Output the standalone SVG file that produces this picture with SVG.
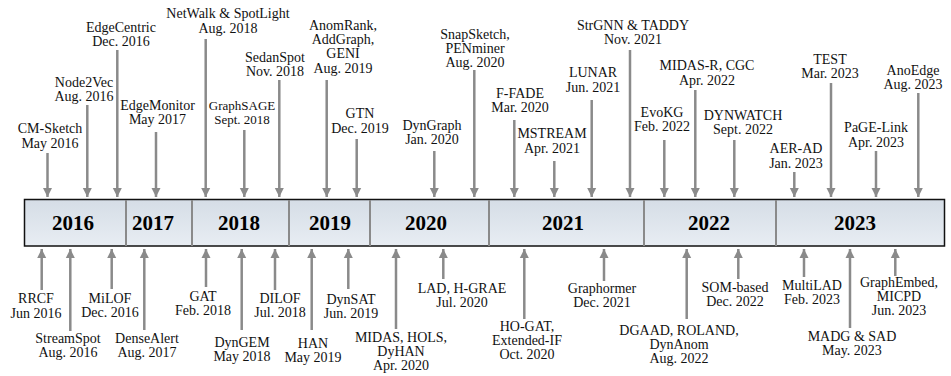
<svg xmlns="http://www.w3.org/2000/svg" width="951" height="376" viewBox="0 0 951 376">
<style>
text{font-family:'Liberation Serif',Tinos,'Times New Roman',Times,'DejaVu Serif',serif;font-size:14px;fill:#111;text-anchor:middle}
.yr{font-size:21px;font-weight:bold;fill:#000}
.sm{font-size:13px}
.arr{stroke:#8a8a8a;stroke-width:2.5;fill:none;marker-end:url(#ah)}
.div{stroke:#8a8a8a;stroke-width:2}
</style>
<defs>
<marker id="ah" markerUnits="userSpaceOnUse" markerWidth="10" markerHeight="10" refX="9" refY="5" orient="auto">
<path d="M0,0.5 L9,5 L0,9.5 z" fill="#8a8a8a"/>
</marker>
<linearGradient id="bg" x1="0" y1="0" x2="0" y2="1">
<stop offset="0" stop-color="#d5dde6"/>
<stop offset="1" stop-color="#e8edf3"/>
</linearGradient>
</defs>
<g id="timeline">
<rect x="24.5" y="199.5" width="920" height="46.5" fill="url(#bg)" stroke="#111" stroke-width="1.5"/>
<line class="div" x1="126" y1="200" x2="126" y2="246"/>
<line class="div" x1="192" y1="200" x2="192" y2="246"/>
<line class="div" x1="289" y1="200" x2="289" y2="246"/>
<line class="div" x1="370" y1="200" x2="370" y2="246"/>
<line class="div" x1="489" y1="200" x2="489" y2="246"/>
<line class="div" x1="644" y1="200" x2="644" y2="246"/>
<line class="div" x1="776" y1="200" x2="776" y2="246"/>
<text class="yr" x="73" y="230">2016</text>
<text class="yr" x="153" y="230">2017</text>
<text class="yr" x="239" y="230">2018</text>
<text class="yr" x="330" y="230">2019</text>
<text class="yr" x="426" y="230">2020</text>
<text class="yr" x="563" y="230">2021</text>
<text class="yr" x="709" y="230">2022</text>
<text class="yr" x="855" y="230">2023</text>
</g>
<g id="connectors">
<line class="arr" x1="47.5" y1="153" x2="47.5" y2="197"/>
<line class="arr" x1="87.3" y1="105" x2="87.3" y2="197"/>
<line class="arr" x1="117.3" y1="50" x2="117.3" y2="197"/>
<line class="arr" x1="156" y1="132" x2="156" y2="197"/>
<line class="arr" x1="205.7" y1="39" x2="205.7" y2="197"/>
<line class="arr" x1="244.3" y1="130" x2="244.3" y2="197"/>
<line class="arr" x1="279.3" y1="80" x2="279.3" y2="197"/>
<line class="arr" x1="326.7" y1="80" x2="326.7" y2="197"/>
<line class="arr" x1="356.7" y1="139" x2="356.7" y2="197"/>
<line class="arr" x1="434.3" y1="151" x2="434.3" y2="197"/>
<line class="arr" x1="474.3" y1="70" x2="474.3" y2="197"/>
<line class="arr" x1="514.3" y1="120" x2="514.3" y2="197"/>
<line class="arr" x1="554.3" y1="161" x2="554.3" y2="197"/>
<line class="arr" x1="591.7" y1="100" x2="591.7" y2="197"/>
<line class="arr" x1="630" y1="50" x2="630" y2="197"/>
<line class="arr" x1="664.3" y1="140" x2="664.3" y2="197"/>
<line class="arr" x1="695.3" y1="90" x2="695.3" y2="197"/>
<line class="arr" x1="734.3" y1="140" x2="734.3" y2="197"/>
<line class="arr" x1="794.3" y1="172" x2="794.3" y2="197"/>
<line class="arr" x1="831" y1="83" x2="831" y2="197"/>
<line class="arr" x1="876" y1="151" x2="876" y2="197"/>
<line class="arr" x1="918.3" y1="93" x2="918.3" y2="197"/>
<line class="arr" x1="41.7" y1="290" x2="41.7" y2="249"/>
<line class="arr" x1="70.3" y1="331" x2="70.3" y2="249"/>
<line class="arr" x1="111.7" y1="289" x2="111.7" y2="249"/>
<line class="arr" x1="144.3" y1="330" x2="144.3" y2="249"/>
<line class="arr" x1="206" y1="287" x2="206" y2="249"/>
<line class="arr" x1="241.7" y1="330" x2="241.7" y2="249"/>
<line class="arr" x1="275" y1="290" x2="275" y2="249"/>
<line class="arr" x1="311.7" y1="330" x2="311.7" y2="249"/>
<line class="arr" x1="348.3" y1="289" x2="348.3" y2="249"/>
<line class="arr" x1="396" y1="329" x2="396" y2="249"/>
<line class="arr" x1="443.3" y1="279" x2="443.3" y2="249"/>
<line class="arr" x1="524.3" y1="319" x2="524.3" y2="249"/>
<line class="arr" x1="604" y1="281" x2="604" y2="249"/>
<line class="arr" x1="686.7" y1="319" x2="686.7" y2="249"/>
<line class="arr" x1="738.3" y1="279" x2="738.3" y2="249"/>
<line class="arr" x1="804" y1="277" x2="804" y2="249"/>
<line class="arr" x1="850" y1="328" x2="850" y2="249"/>
<line class="arr" x1="895.3" y1="276" x2="895.3" y2="249"/>
</g>
<g id="cmsketch"><text x="50" y="133">CM-Sketch</text><text x="50" y="148">May 2016</text></g>
<g id="node2vec"><text x="84" y="87">Node2Vec</text><text x="84" y="101">Aug. 2016</text></g>
<g id="edgecentric"><text x="121" y="32">EdgeCentric</text><text x="121" y="46">Dec. 2016</text></g>
<g id="edgemonitor"><text x="157.5" y="110">EdgeMonitor</text><text x="157.5" y="124">May 2017</text></g>
<g id="netwalk"><text x="228" y="18">NetWalk &amp; SpotLight</text><text x="228" y="33">Aug. 2018</text></g>
<g id="graphsage"><text class="sm" x="242" y="110">GraphSAGE</text><text class="sm" x="242" y="124">Sept. 2018</text></g>
<g id="sedanspot"><text x="275" y="62">SedanSpot</text><text x="275" y="76">Nov. 2018</text></g>
<g id="anomrank"><text x="343" y="30">AnomRank,</text><text x="343" y="44">AddGraph,</text><text x="343" y="58">GENI</text><text x="343" y="73">Aug. 2019</text></g>
<g id="gtn"><text x="360" y="118">GTN</text><text x="360" y="133">Dec. 2019</text></g>
<g id="dyngraph"><text x="432" y="130">DynGraph</text><text x="432" y="144">Jan. 2020</text></g>
<g id="snapsketch"><text x="475" y="39">SnapSketch,</text><text x="475" y="53">PENminer</text><text x="475" y="67">Aug. 2020</text></g>
<g id="ffade"><text x="520" y="98">F-FADE</text><text x="520" y="112">Mar. 2020</text></g>
<g id="mstream"><text x="552" y="138">MSTREAM</text><text x="552" y="153">Apr. 2021</text></g>
<g id="lunar"><text x="593" y="77">LUNAR</text><text x="593" y="92">Jun. 2021</text></g>
<g id="strgnn"><text x="633" y="30">StrGNN &amp; TADDY</text><text x="633" y="44">Nov. 2021</text></g>
<g id="evokg"><text x="662" y="117">EvoKG</text><text x="662" y="131">Feb. 2022</text></g>
<g id="midasr"><text x="707" y="70">MIDAS-R, CGC</text><text x="707" y="85">Apr. 2022</text></g>
<g id="dynwatch"><text x="743" y="120">DYNWATCH</text><text x="743" y="134">Sept. 2022</text></g>
<g id="aerad"><text x="796" y="153">AER-AD</text><text x="796" y="168">Jan. 2023</text></g>
<g id="test"><text x="830" y="64">TEST</text><text x="830" y="78">Mar. 2023</text></g>
<g id="pagelink"><text x="876" y="132">PaGE-Link</text><text x="876" y="147">Apr. 2023</text></g>
<g id="anoedge"><text x="913" y="75">AnoEdge</text><text x="913" y="89">Aug. 2023</text></g>
<g id="rrcf"><text x="36" y="303">RRCF</text><text x="36" y="318">Jun 2016</text></g>
<g id="streamspot"><text x="68" y="343">StreamSpot</text><text x="68" y="357">Aug. 2016</text></g>
<g id="milof"><text x="110" y="303">MiLOF</text><text x="110" y="317">Dec. 2016</text></g>
<g id="densealert"><text x="147" y="343">DenseAlert</text><text x="147" y="357">Aug. 2017</text></g>
<g id="gat"><text x="203" y="301">GAT</text><text x="203" y="315">Feb. 2018</text></g>
<g id="dyngem"><text x="242" y="347">DynGEM</text><text x="242" y="361">May 2018</text></g>
<g id="dilof"><text x="280" y="303">DILOF</text><text x="280" y="317">Jul. 2018</text></g>
<g id="han"><text x="313" y="348">HAN</text><text x="313" y="362">May 2019</text></g>
<g id="dynsat"><text x="351" y="304">DynSAT</text><text x="351" y="318">Jun. 2019</text></g>
<g id="midas"><text x="401" y="342">MIDAS, HOLS,</text><text x="401" y="356">DyHAN</text><text x="401" y="370">Apr. 2020</text></g>
<g id="lad"><text x="462" y="293">LAD, H-GRAE</text><text x="462" y="307">Jul. 2020</text></g>
<g id="hogat"><text x="527" y="331">HO-GAT,</text><text x="527" y="345">Extended-IF</text><text x="527" y="359">Oct. 2020</text></g>
<g id="graphormer"><text x="602" y="293">Graphormer</text><text x="602" y="307">Dec. 2021</text></g>
<g id="dgaad"><text x="679" y="335">DGAAD, ROLAND,</text><text x="679" y="349">DynAnom</text><text x="679" y="363">Aug. 2022</text></g>
<g id="som"><text x="735" y="292">SOM-based</text><text x="735" y="306">Dec. 2022</text></g>
<g id="multilad"><text x="812" y="290">MultiLAD</text><text x="812" y="304">Feb. 2023</text></g>
<g id="madg"><text x="852" y="341">MADG &amp; SAD</text><text x="852" y="355">May. 2023</text></g>
<g id="graphembed"><text x="899" y="287">GraphEmbed,</text><text x="899" y="301">MICPD</text><text x="899" y="315">Jun. 2023</text></g>
</svg>
